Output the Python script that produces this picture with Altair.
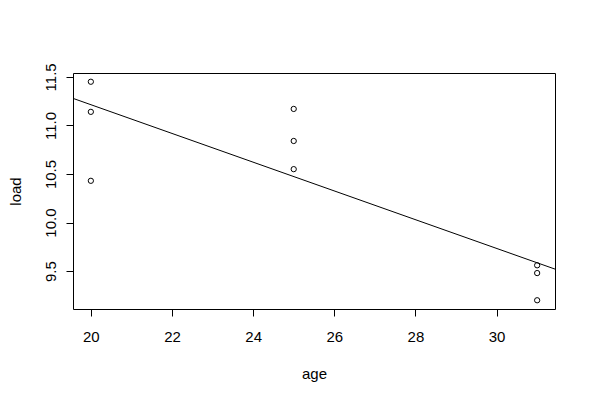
import altair as alt
import pandas as pd
import numpy as np

age = [20, 20, 20, 25, 25, 25, 31, 31, 31]
load = [11.45, 11.14, 10.43, 11.17, 10.84, 10.55, 9.56, 9.48, 9.20]
x_ticks = [20, 22, 24, 26, 28, 30]
y_ticks = [9.5, 10.0, 10.5, 11.0, 11.5]

# R-style axis ranges (data range extended by 4%)
xr = max(age) - min(age)
yr = max(load) - min(load)
x_dom = [min(age) - 0.04 * xr, max(age) + 0.04 * xr]
y_dom = [min(load) - 0.04 * yr, max(load) + 0.04 * yr]

df = pd.DataFrame({"age": age, "load": load})

# least-squares fit (abline across full plot width)
slope, intercept = np.polyfit(age, load, 1)
line_df = pd.DataFrame({"age": x_dom, "load": [intercept + slope * v for v in x_dom]})

FONT = "Liberation Sans"

xs = alt.Scale(domain=x_dom, nice=False, zero=False)
ys = alt.Scale(domain=y_dom, nice=False, zero=False)

xax = alt.Axis(values=x_ticks, title="age", grid=False, domain=False,
               tickSize=7, tickColor="black", labelPadding=13, labelFontSize=15,
               labelColor="black", labelFont=FONT, titleFont=FONT, titleFontSize=15,
               titleFontWeight="normal", titleColor="black", titlePadding=22)
yax = alt.Axis(values=y_ticks, title="load", grid=False, domain=False, format=".1f",
               tickSize=7, tickColor="black", labelAngle=270, labelAlign="center",
               labelBaseline="bottom", labelPadding=8, labelFontSize=15,
               labelColor="black", labelFont=FONT, titleFont=FONT, titleFontSize=15,
               titleFontWeight="normal", titleColor="black", titlePadding=20)

points = alt.Chart(df).mark_point(shape="circle", filled=False, size=28,
                                  color="black", strokeWidth=1, opacity=1).encode(
    x=alt.X("age:Q", scale=xs, axis=xax),
    y=alt.Y("load:Q", scale=ys, axis=yax),
)

line = alt.Chart(line_df).mark_line(color="black", strokeWidth=1, clip=True).encode(
    x=alt.X("age:Q", scale=xs),
    y=alt.Y("load:Q", scale=ys),
)

chart = alt.layer(line, points).properties(
    width=482, height=236,
    autosize=alt.AutoSizeParams(type="none"),
    padding={"left": 65, "top": 65, "right": 30, "bottom": 83},
    background="white",
).configure_view(stroke="black", strokeWidth=1)

chart.save("out.html", embed_options={"renderer": "svg", "actions": False})
